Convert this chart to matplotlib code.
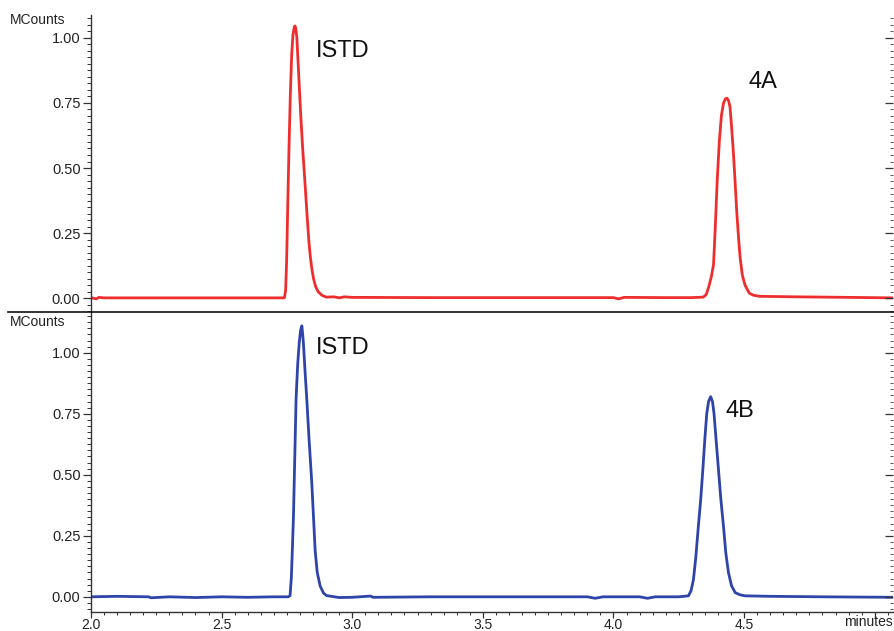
import numpy as np
import matplotlib
matplotlib.use("Agg")
import matplotlib.pyplot as plt
from matplotlib.ticker import MultipleLocator, FuncFormatter
from matplotlib.lines import Line2D

plt.rcParams['font.family'] = ['Liberation Sans', 'DejaVu Sans']

t_4a = [2.00, 2.02, 2.03, 2.05, 2.30, 2.60, 2.740, 2.745, 2.749, 2.753, 2.758, 2.763,
        2.768, 2.773, 2.778, 2.781, 2.784, 2.788, 2.793, 2.798, 2.803, 2.810, 2.818,
        2.827, 2.834, 2.840, 2.846, 2.852, 2.860, 2.870, 2.884, 2.90, 2.93, 2.95,
        2.97, 3.00, 3.30, 3.60, 3.85, 4.00, 4.02, 4.04, 4.20, 4.30, 4.344, 4.355,
        4.365, 4.375, 4.383, 4.390, 4.397, 4.405, 4.413, 4.421, 4.428, 4.434, 4.440,
        4.446, 4.452, 4.459, 4.466, 4.472, 4.479, 4.485, 4.493, 4.504, 4.520, 4.536,
        4.56, 4.70, 4.90, 5.07]
i_4a = [0.003, -0.002, 0.004, 0.002, 0.002, 0.002, 0.002, 0.03, 0.15, 0.35, 0.58, 0.78,
        0.93, 1.01, 1.04, 1.045, 1.035, 1.00, 0.90, 0.80, 0.70, 0.58, 0.46,
        0.32, 0.22, 0.155, 0.11, 0.075, 0.045, 0.025, 0.012, 0.005, 0.006, 0.002,
        0.006, 0.004, 0.003, 0.003, 0.003, 0.003, -0.002, 0.004, 0.003, 0.003, 0.005, 0.015,
        0.045, 0.085, 0.13, 0.28, 0.45, 0.60, 0.70, 0.748, 0.765, 0.768, 0.76,
        0.735, 0.66, 0.56, 0.44, 0.33, 0.23, 0.155, 0.09, 0.05, 0.02, 0.012,
        0.008, 0.006, 0.004, 0.002]

t_4b = [2.00, 2.10, 2.22, 2.23, 2.30, 2.40, 2.50, 2.60, 2.70, 2.755, 2.762, 2.767,
        2.771, 2.775, 2.780, 2.785, 2.791, 2.797, 2.802, 2.807, 2.810, 2.813, 2.819,
        2.826, 2.835, 2.845, 2.852, 2.858, 2.866, 2.877, 2.890, 2.902, 2.95, 3.00,
        3.07, 3.08, 3.30, 3.60, 3.90, 3.93, 3.96, 4.10, 4.13, 4.16, 4.25, 4.287,
        4.297, 4.306, 4.315, 4.325, 4.334, 4.342, 4.350, 4.357, 4.364, 4.372, 4.379,
        4.385, 4.393, 4.402, 4.411, 4.421, 4.430, 4.440, 4.452, 4.466, 4.485, 4.504,
        4.60, 4.80, 5.07]
i_4b = [0.0, 0.002, 0.0, -0.004, 0.0, -0.003, 0.0, -0.002, 0.0, 0.0, 0.005, 0.08,
        0.20, 0.33, 0.57, 0.81, 0.95, 1.04, 1.09, 1.11, 1.08, 1.04, 0.93,
        0.81, 0.64, 0.47, 0.32, 0.19, 0.10, 0.045, 0.015, 0.005, -0.003, -0.002,
        0.003, -0.002, 0.0, 0.0, 0.0, -0.006, 0.0, 0.0, -0.006, 0.0, 0.0, 0.004,
        0.025, 0.07, 0.16, 0.29, 0.40, 0.52, 0.65, 0.75, 0.80, 0.82, 0.80,
        0.75, 0.64, 0.52, 0.40, 0.29, 0.18, 0.10, 0.045, 0.017, 0.008, 0.004,
        0.002, 0.0, -0.002]

etiquetas_sup = ["ISTD", "4A"]
pos_sup = [(2.861, 0.95), (4.515, 0.83)]
etiquetas_inf = ["ISTD", "4B"]
pos_inf = [(2.861, 1.02), (4.427, 0.76)]

rojo = "#ee2e2e"
azul = "#2e44a8"

W, H = 894, 631
fig = plt.figure(figsize=(W / 100, H / 100), dpi=100)

x0 = 91 / W
x1 = 893 / W
ax1 = fig.add_axes([x0, 1 - 311.7 / H, x1 - x0, (311.7 - 15) / H])
ax2 = fig.add_axes([x0, 1 - 611.7 / H, x1 - x0, (611.7 - 311.7) / H])


def etiqueta_x(v, pos):
    # el 5.0 queda tapado por "minutes" en el original
    if v > 4.9:
        return ""
    return "%.1f" % v


def configurar(ax, ylim):
    ax.set_xlim(2.0, 5.07)
    ax.set_ylim(*ylim)
    ax.yaxis.set_major_locator(MultipleLocator(0.25))
    ax.yaxis.set_minor_locator(MultipleLocator(0.025))
    ax.yaxis.set_major_formatter(FuncFormatter(lambda v, p: "%.2f" % v))
    ax.xaxis.set_major_locator(MultipleLocator(0.5))
    ax.xaxis.set_minor_locator(MultipleLocator(0.05))
    ax.xaxis.set_major_formatter(FuncFormatter(etiqueta_x))
    ax.tick_params(axis="y", which="major", direction="out", length=6, width=0.9,
                   labelsize=10.5, pad=1.5)
    ax.tick_params(axis="y", which="minor", direction="out", length=3, width=0.7)
    ax.tick_params(axis="y", which="both", colors="#333333", labelcolor="#222222")
    for lado in ["top", "right"]:
        ax.spines[lado].set_visible(False)
    ax.spines["left"].set_linewidth(1.0)
    ax.spines["left"].set_color("#333333")

    # ticks del lado derecho, hacia adentro
    der = ax.twinx()
    der.set_ylim(*ylim)
    der.yaxis.set_major_locator(MultipleLocator(0.25))
    der.yaxis.set_minor_locator(MultipleLocator(0.025))
    der.tick_params(axis="y", which="major", direction="in", length=6, width=0.9,
                    colors="#333333", labelright=False)
    der.tick_params(axis="y", which="minor", direction="in", length=2, width=0.7,
                    colors="#555555")
    for lado in ["top", "right", "left", "bottom"]:
        der.spines[lado].set_visible(False)
    der.tick_params(axis="x", which="both", bottom=False, top=False,
                    labelbottom=False, labeltop=False)


configurar(ax1, (-0.051, 1.087))
configurar(ax2, (-0.061, 1.168))

# panel superior sin eje x
ax1.spines["bottom"].set_visible(False)
ax1.tick_params(axis="x", which="both", bottom=False, labelbottom=False)

ax2.tick_params(axis="x", which="major", direction="out", length=4, width=0.9,
                labelsize=10, pad=0.5, colors="#333333", labelcolor="#222222")
ax2.tick_params(axis="x", which="minor", direction="out", length=2.5, width=0.7, colors="#333333")
ax2.spines["bottom"].set_linewidth(1.0)
ax2.spines["bottom"].set_color("#333333")

ax1.plot(t_4a, i_4a, color=rojo, lw=2.0, solid_joinstyle="round")
ax2.plot(t_4b, i_4b, color=azul, lw=2.0, solid_joinstyle="round")

for txt, (xx, yy) in zip(etiquetas_sup, pos_sup):
    ax1.text(xx, yy, txt, fontsize=17, ha="left", va="center", color="#111111")
for txt, (xx, yy) in zip(etiquetas_inf, pos_inf):
    ax2.text(xx, yy, txt, fontsize=17, ha="left", va="center", color="#111111")

# linea divisoria entre paneles
fig.add_artist(Line2D([8 / W, 1.0], [1 - 311.7 / H, 1 - 311.7 / H], color="#111111", lw=1.2))

fig.text(10 / W, 1 - 20 / H, "MCounts", fontsize=10, ha="left", va="center", color="#222222")
fig.text(10 / W, 1 - 322 / H, "MCounts", fontsize=10, ha="left", va="center", color="#222222")
fig.text(0.999, 1 - 622 / H, "minutes", fontsize=10, ha="right", va="center", color="#222222")

fig.savefig("out.png", dpi=100)
